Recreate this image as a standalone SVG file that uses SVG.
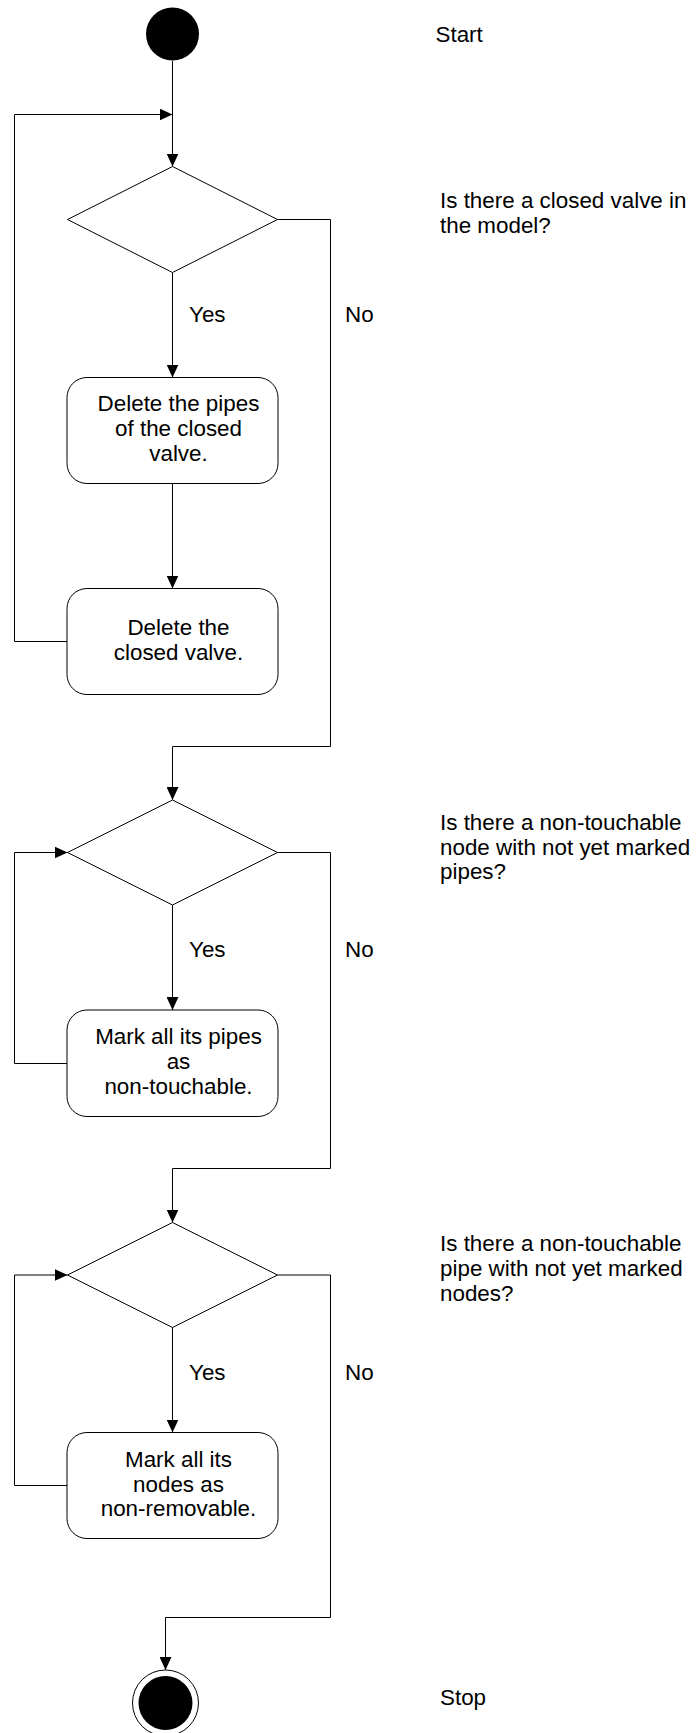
<svg xmlns="http://www.w3.org/2000/svg" width="698" height="1733" viewBox="0 0 698 1733">
  <style>
    text { font-family: "Liberation Sans", Arial, sans-serif; font-size: 22.4px; fill: #000; }
    .mid { text-anchor: middle; }
    .shape { fill: #fff; stroke: #000; stroke-width: 1; }
    .edge { fill: none; stroke: #000; stroke-width: 1; }
  </style>
  <defs>
    <marker id="arrow" markerUnits="userSpaceOnUse" markerWidth="13" markerHeight="12" refX="13" refY="6" orient="auto">
      <path d="M0,0 L13,6 L0,12 z" fill="#000"/>
    </marker>
  </defs>
  <rect width="698" height="1733" fill="#fff"/>

  <!-- connectors -->
  <g id="connectors">
    <path class="edge" d="M172.5,61 V166.5" marker-end="url(#arrow)"/>
    <path class="edge" d="M67,641.5 H14.5 V114.5 H172.5" marker-end="url(#arrow)"/>
    <path class="edge" d="M172.5,272.5 V377.5" marker-end="url(#arrow)"/>
    <path class="edge" d="M172.5,483.5 V588.5" marker-end="url(#arrow)"/>
    <path class="edge" d="M277.5,219.5 H330.5 V746.5 H172.5 V800" marker-end="url(#arrow)"/>
    <path class="edge" d="M67,1063.5 H14.5 V852.5 H67.5" marker-end="url(#arrow)"/>
    <path class="edge" d="M172.5,905 V1010" marker-end="url(#arrow)"/>
    <path class="edge" d="M277.5,852.5 H330.5 V1168.5 H172.5 V1222.5" marker-end="url(#arrow)"/>
    <path class="edge" d="M67,1485.5 H14.5 V1275 H67.5" marker-end="url(#arrow)"/>
    <path class="edge" d="M172.5,1327.5 V1432.5" marker-end="url(#arrow)"/>
    <path class="edge" d="M277.5,1275 H330.5 V1617.5 H165.5 V1670" marker-end="url(#arrow)"/>
  </g>

  <!-- nodes -->
  <g id="start">
    <circle cx="172.5" cy="34" r="26.5" fill="#000"/>
    <text x="435.5" y="42.3">Start</text>
  </g>

  <g id="decision-closed-valve">
    <polygon class="shape" points="172.5,166.5 277.5,219.5 172.5,272.5 67.5,219.5"/>
    <text x="440" y="208">Is there a closed valve in</text>
    <text x="440" y="233">the model?</text>
    <text x="189" y="322">Yes</text>
    <text x="345" y="322">No</text>
  </g>

  <g id="delete-pipes">
    <rect class="shape" x="67" y="377.5" width="211" height="106" rx="20" ry="20"/>
    <text class="mid" x="178.5" y="410.7">Delete the pipes</text>
    <text class="mid" x="178.5" y="436">of the closed</text>
    <text class="mid" x="178.5" y="461">valve.</text>
  </g>

  <g id="delete-valve">
    <rect class="shape" x="67" y="588.5" width="211" height="106" rx="20" ry="20"/>
    <text class="mid" x="178.5" y="635">Delete the</text>
    <text class="mid" x="178.5" y="660">closed valve.</text>
  </g>

  <g id="decision-node-pipes">
    <polygon class="shape" points="172.5,800 277.5,852.5 172.5,905 67.5,852.5"/>
    <text x="440" y="829.5">Is there a non-touchable</text>
    <text x="440" y="854.5">node with not yet marked</text>
    <text x="440" y="879">pipes?</text>
    <text x="189" y="957">Yes</text>
    <text x="345" y="957">No</text>
  </g>

  <g id="mark-pipes">
    <rect class="shape" x="67" y="1010" width="211" height="106.5" rx="20" ry="20"/>
    <text class="mid" x="178.5" y="1043.5">Mark all its pipes</text>
    <text class="mid" x="178.5" y="1068.5">as</text>
    <text class="mid" x="178.5" y="1093.5">non-touchable.</text>
  </g>

  <g id="decision-pipe-nodes">
    <polygon class="shape" points="172.5,1222.5 277.5,1275 172.5,1327.5 67.5,1275"/>
    <text x="440" y="1250.5">Is there a non-touchable</text>
    <text x="440" y="1275.5">pipe with not yet marked</text>
    <text x="440" y="1300.5">nodes?</text>
    <text x="189" y="1380">Yes</text>
    <text x="345" y="1380">No</text>
  </g>

  <g id="mark-nodes">
    <rect class="shape" x="67" y="1432.5" width="211" height="106" rx="20" ry="20"/>
    <text class="mid" x="178.5" y="1467">Mark all its</text>
    <text class="mid" x="178.5" y="1491.5">nodes as</text>
    <text class="mid" x="178.5" y="1516">non-removable.</text>
  </g>

  <g id="stop">
    <circle cx="165.5" cy="1703" r="33" fill="#fff" stroke="#000" stroke-width="1"/>
    <circle cx="165.5" cy="1703" r="27" fill="#000"/>
    <text x="440" y="1705">Stop</text>
  </g>
</svg>
